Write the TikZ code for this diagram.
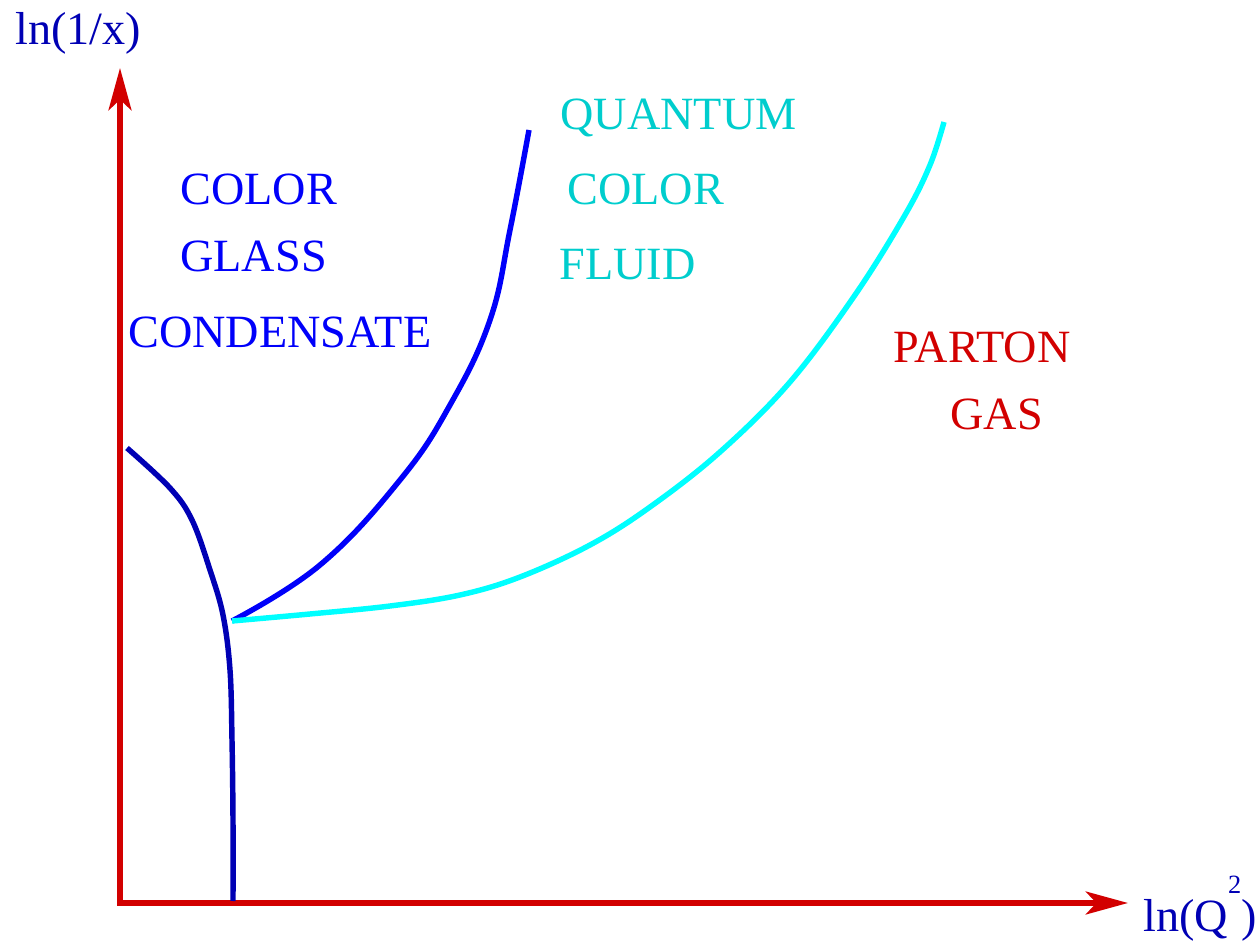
\documentclass[tikz,border=0pt]{standalone}
\usepackage{fontspec}
\setmainfont{Liberation Serif}
\usetikzlibrary{arrows.meta}
\definecolor{axisred}{RGB}{210,0,0}
\definecolor{labelblue}{RGB}{0,0,180}
\definecolor{cgcblue}{RGB}{0,0,250}
\definecolor{fluidcyan}{RGB}{0,205,205}
\definecolor{linecyan}{RGB}{0,255,255}
\tikzset{
    axis/.style={
        line width=3.1pt,
        axisred,
        -{Stealth[length=24pt, width=13pt, inset=6pt]}
    },
    curve/.style={
        line width=3.1pt
    },
    region/.style={
        anchor=base west,
        inner sep=0pt,
        font=\fontsize{26.3}{30}\selectfont
    }
}
\begin{document}
\begin{tikzpicture}[x=0.02cm, y=-0.02cm]
      \useasboundingbox (0,0) rectangle (1259,942);

      \coordinate (O) at (120,903);
      \coordinate (Ytip) at (120,68);
      \coordinate (Xtip) at (1128,903);
      \coordinate (T) at (232,621);

      % axes
      \draw[axis] ([yshift=-1.55pt]O) -- (Ytip);
      \draw[axis] ([xshift=-1.55pt]O) -- (Xtip);

      \node[region, labelblue] (ylab) at (15,45) {ln(1/x)};
      \node[region, labelblue] (xlab) at (1143,931)
        {ln(Q\raisebox{0.76cm}{\fontsize{15}{15}\selectfont 2})};

      % boundaries
      \draw[curve, labelblue] plot[smooth, tension=0.6] coordinates
        {(127,448) (170,488) (192,520) (210,570) (223,615) (230,670) (232,740) (233,820) (233,901)};
      \draw[curve, cgcblue] plot[smooth, tension=0.7] coordinates
        {(T) (320,565) (400,480) (450,405) (490,320) (510,230) (529,130)};
      \draw[curve, linecyan] plot[smooth, tension=0.6] coordinates
        {(T) (310,614) (390,606) (460,595) (520,577) (590,545) (650,507) (720,452) (790,382) (855,295) (905,215) (930,165) (944,122)};

      % regions
      \node[region, cgcblue] (cgc1) at (180,205) {COLOR};
      \node[region, cgcblue] (cgc2) at (180,272) {GLASS};
      \node[region, cgcblue] (cgc3) at (128,348) {CONDENSATE};

      \node[region, fluidcyan] (qcf1) at (560,130) {QUANTUM};
      \node[region, fluidcyan] (qcf2) at (567,205) {COLOR};
      \node[region, fluidcyan] (qcf3) at (559,280) {FLUID};

      \node[region, axisred] (pg1) at (893,363) {PARTON};
      \node[region, axisred] (pg2) at (950,430) {GAS};

\end{tikzpicture}
\end{document}
